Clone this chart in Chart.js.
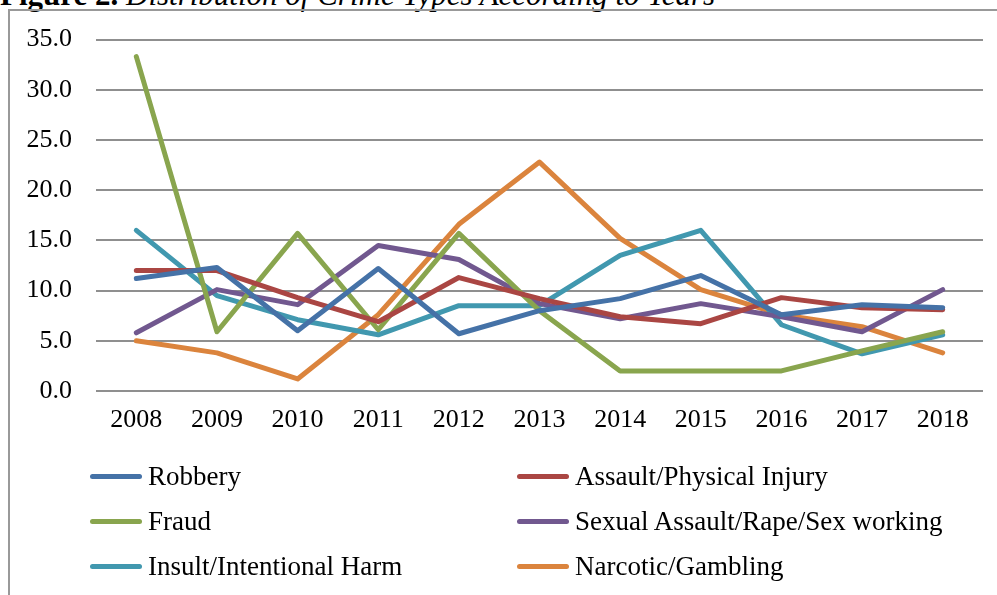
<!DOCTYPE html>
<html>
<head>
<meta charset="utf-8">
<script src="https://cdn.jsdelivr.net/npm/chart.js@4/dist/chart.umd.min.js"></script>
<style>
  html, body { margin: 0; padding: 0; background: #fff; }
  body { width: 997px; height: 595px; position: relative; overflow: hidden; font-family: "Liberation Serif", "Times New Roman", serif; }
  #title { position: absolute; left: 0; top: -21px; font-size: 31px; line-height: 31px; white-space: nowrap; color: #000; }
  #title b { font-weight: bold; }
  #title i { font-style: italic; }
  #frame { position: absolute; left: 8px; top: 9px; right: -5px; bottom: -5px; border-left: 2px solid #999; border-top: 2px solid #999; }
  #chartBox { position: absolute; left: 0; top: 0; width: 997px; height: 595px; }
  #legend { position: absolute; left: 0; top: 0; width: 997px; height: 595px; pointer-events: none; }
  .item { position: absolute; display: flex; align-items: center; font-size: 27px; color: #000; white-space: nowrap; }
  .item .swatch { width: 52px; height: 5px; border-radius: 3px; margin-right: 6px; }
</style>
</head>
<body>
<div id="title"><b>Figure 2.</b> <i>Distribution of Crime Types According to Years</i></div>
<div id="frame"></div>
<div id="chartBox"><canvas id="crimeChart" width="997" height="595"></canvas></div>
<div id="legend"></div>
<script>
const years = ["2008","2009","2010","2011","2012","2013","2014","2015","2016","2017","2018"];
const robbery  = [11.2, 12.3, 6.0, 12.2, 5.7, 8.0, 9.2, 11.5, 7.6, 8.6, 8.3];
const assault  = [12.0, 12.0, 9.3, 6.9, 11.3, 9.2, 7.4, 6.7, 9.3, 8.3, 8.1];
const fraud    = [33.3, 5.9, 15.7, 6.1, 15.7, 8.0, 2.0, 2.0, 2.0, 4.0, 5.9];
const sexual   = [5.8, 10.1, 8.6, 14.5, 13.1, 8.7, 7.2, 8.7, 7.4, 5.9, 10.1];
const insult   = [16.0, 9.5, 7.1, 5.6, 8.5, 8.5, 13.5, 16.0, 6.6, 3.7, 5.6];
const narcotic = [5.0, 3.8, 1.2, 7.6, 16.6, 22.8, 15.2, 10.1, 7.6, 6.4, 3.8];
const seriesNames = ["Robbery","Assault/Physical Injury","Fraud","Sexual Assault/Rape/Sex working","Insult/Intentional Harm","Narcotic/Gambling"];
const seriesColors = ["#4572A7","#AA4643","#89A54E","#71588F","#4198AF","#DB843D"];
const yTicks = [0, 5, 10, 15, 20, 25, 30, 35];

const allValues = [robbery, assault, fraud, sexual, insult, narcotic];
const datasets = allValues.map((vals, i) => ({
    label: seriesNames[i],
    data: vals,
    borderColor: seriesColors[i],
    backgroundColor: seriesColors[i],
    borderWidth: 5,
    pointRadius: 0,
    tension: 0,
    fill: false,
    borderCapStyle: "round",
    borderJoinStyle: "round"
}));

const tickFont = { family: "'Liberation Serif', 'Times New Roman', serif", size: 26 };

const ctx = document.getElementById("crimeChart").getContext("2d");
const chart = new Chart(ctx, {
    type: "line",
    data: { labels: years, datasets: datasets },
    options: {
        responsive: false,
        animation: false,
        events: [],
        layout: { padding: { top: 39, left: 0, right: 14, bottom: 154 } },
        plugins: { legend: { display: false }, tooltip: { enabled: false }, title: { display: false } },
        scales: {
            x: {
                offset: true,
                grid: { display: false, drawTicks: false },
                border: { display: false },
                ticks: { color: "#000", font: tickFont, padding: 14, maxRotation: 0 },
                afterFit: s => { s.height = 50; }
            },
            y: {
                min: 0, max: 35,
                afterBuildTicks: s => { s.ticks = yTicks.map(v => ({ value: v })); },
                grid: { color: "#8f8f8f", lineWidth: 2, drawTicks: false },
                border: { display: false },
                ticks: { color: "#000", font: tickFont, padding: 24, callback: v => Number(v).toFixed(1) },
                afterFit: s => { s.width = 96; }
            }
        }
    }
});

// legend, two columns
const legend = document.getElementById("legend");
const colX = [90, 517];
const rowY = [476, 521, 566];
seriesNames.forEach((name, i) => {
    const item = document.createElement("div");
    item.className = "item";
    item.style.left = colX[i % 2] + "px";
    item.style.top = (rowY[Math.floor(i / 2)] - 16) + "px";
    item.style.height = "32px";
    const sw = document.createElement("span");
    sw.className = "swatch";
    sw.style.background = seriesColors[i];
    const tx = document.createElement("span");
    tx.textContent = name;
    item.appendChild(sw);
    item.appendChild(tx);
    legend.appendChild(item);
});
</script>
</body>
</html>
